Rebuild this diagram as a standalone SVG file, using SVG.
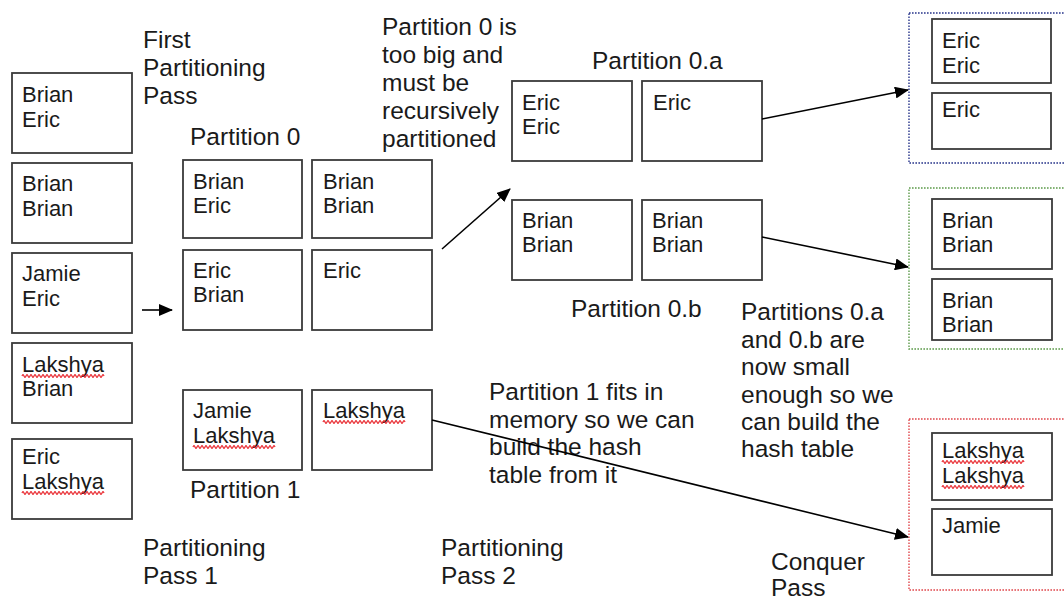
<svg xmlns="http://www.w3.org/2000/svg" xmlns:xlink="http://www.w3.org/1999/xlink" width="1064" height="600" viewBox="0 0 1064 600">
<style>
.bg{fill:#ffffff}
.box{fill:#ffffff;stroke:#3a3a3a;stroke-width:1.8}
.t{font-family:"Liberation Sans",Arial,sans-serif;font-size:22px;fill:#1a1a1a}
.l{font-family:"Liberation Sans",Arial,sans-serif;font-size:24.5px;fill:#1a1a1a}
.dot{fill:none;stroke-width:1.4;stroke-dasharray:1.6 1.4}
.conn{fill:none;stroke:#000;stroke-width:1.6;marker-end:url(#ah)}
.sq{fill:none;stroke:#e8242a;stroke-width:1.2}
</style>
<defs>
<marker id="ah" markerUnits="userSpaceOnUse" markerWidth="14" markerHeight="12" refX="13" refY="6" orient="auto">
<path d="M0,0 L14,6 L0,12 z" fill="#000"/>
</marker>
<path id="squig" d="M0 0 q1 -2.6 2 0 t2 0 t2 0 t2 0 t2 0 t2 0 t2 0 t2 0 t2 0 t2 0 t2 0 t2 0 t2 0 t2 0 t2 0 t2 0 t2 0 t2 0 t2 0 t2 0 t2 0 t2 0 t2 0 t2 0 t2 0 t2 0 t2 0 t2 0 t2 0 t2 0 t2 0 t2 0 t2 0 t2 0 t2 0 t2 0 t2 0 t2 0 t2 0 t2 0 t2 0"/>
</defs>
<rect class="bg" x="0" y="0" width="1064" height="600"/>

<g id="labels">
<text class="l" x="143" y="48">First</text>
<text class="l" x="143" y="76">Partitioning</text>
<text class="l" x="143" y="104">Pass</text>
<text class="l" x="190" y="145">Partition 0</text>
<text class="l" x="382" y="35">Partition 0 is</text>
<text class="l" x="382" y="63">too big and</text>
<text class="l" x="382" y="91">must be</text>
<text class="l" x="382" y="119">recursively</text>
<text class="l" x="382" y="147">partitioned</text>
<text class="l" x="592" y="69">Partition 0.a</text>
<text class="l" x="571" y="317">Partition 0.b</text>
<text class="l" x="741" y="320">Partitions 0.a</text>
<text class="l" x="741" y="348">and 0.b are</text>
<text class="l" x="741" y="375">now small</text>
<text class="l" x="741" y="403">enough so we</text>
<text class="l" x="741" y="430">can build the</text>
<text class="l" x="741" y="457">hash table</text>
<text class="l" x="489" y="400">Partition 1 fits in</text>
<text class="l" x="489" y="428">memory so we can</text>
<text class="l" x="489" y="455">build the hash</text>
<text class="l" x="489" y="483">table from it</text>
<text class="l" x="190" y="498">Partition 1</text>
<text class="l" x="143" y="556">Partitioning</text>
<text class="l" x="143" y="584">Pass 1</text>
<text class="l" x="441" y="556">Partitioning</text>
<text class="l" x="441" y="584">Pass 2</text>
<text class="l" x="771" y="570">Conquer</text>
<text class="l" x="771" y="596">Pass</text>
</g>

<g id="input">
<g id="in1"><rect class="box" x="12" y="73" width="120" height="80"/><text class="t" x="22" y="102">Brian</text><text class="t" x="22" y="127">Eric</text></g>
<g id="in2"><rect class="box" x="12" y="163" width="120" height="80"/><text class="t" x="22" y="191">Brian</text><text class="t" x="22" y="216">Brian</text></g>
<g id="in3"><rect class="box" x="12" y="253" width="120" height="80"/><text class="t" x="22" y="281">Jamie</text><text class="t" x="22" y="306">Eric</text></g>
<g id="in4"><rect class="box" x="12" y="343" width="120" height="80"/><text class="t" x="22" y="372">Lakshya</text><use class="sq" xlink:href="#squig" x="22" y="376"/><text class="t" x="22" y="396">Brian</text></g>
<g id="in5"><rect class="box" x="12" y="439" width="120" height="80"/><text class="t" x="22" y="464">Eric</text><text class="t" x="22" y="489">Lakshya</text><use class="sq" xlink:href="#squig" x="22" y="493"/></g>
</g>

<g id="partition0">
<g id="p0a"><rect class="box" x="183" y="160" width="119" height="78"/><text class="t" x="193" y="189">Brian</text><text class="t" x="193" y="213">Eric</text></g>
<g id="p0b"><rect class="box" x="312" y="160" width="120" height="78"/><text class="t" x="323" y="189">Brian</text><text class="t" x="323" y="213">Brian</text></g>
<g id="p0c"><rect class="box" x="183" y="250" width="119" height="80"/><text class="t" x="193" y="278">Eric</text><text class="t" x="193" y="302">Brian</text></g>
<g id="p0d"><rect class="box" x="312" y="250" width="120" height="80"/><text class="t" x="323" y="278">Eric</text></g>
</g>

<g id="partition1">
<g id="p1a"><rect class="box" x="183" y="390" width="119" height="80"/><text class="t" x="193" y="418">Jamie</text><text class="t" x="193" y="443">Lakshya</text><use class="sq" xlink:href="#squig" x="193" y="447"/></g>
<g id="p1b"><rect class="box" x="312" y="390" width="120" height="80"/><text class="t" x="323" y="418">Lakshya</text><use class="sq" xlink:href="#squig" x="323" y="422"/></g>
</g>

<g id="partition0a">
<g id="p0a1"><rect class="box" x="512" y="81" width="120" height="80"/><text class="t" x="522" y="110">Eric</text><text class="t" x="522" y="134">Eric</text></g>
<g id="p0a2"><rect class="box" x="642" y="81" width="120" height="80"/><text class="t" x="653" y="110">Eric</text></g>
</g>

<g id="partition0b">
<g id="p0b1"><rect class="box" x="512" y="200" width="120" height="80"/><text class="t" x="522" y="228">Brian</text><text class="t" x="522" y="252">Brian</text></g>
<g id="p0b2"><rect class="box" x="642" y="200" width="120" height="80"/><text class="t" x="652" y="228">Brian</text><text class="t" x="652" y="252">Brian</text></g>
</g>

<g id="conquerEric">
<rect class="dot" stroke="#27348b" x="909" y="13" width="160" height="150"/>
<rect class="box" x="932" y="19" width="119" height="64"/><text class="t" x="942" y="48">Eric</text><text class="t" x="942" y="73">Eric</text>
<rect class="box" x="932" y="93" width="119" height="56"/><text class="t" x="942" y="117">Eric</text>
</g>

<g id="conquerBrian">
<rect class="dot" stroke="#5c9a4a" x="909" y="188" width="160" height="161"/>
<rect class="box" x="932" y="199" width="120" height="70"/><text class="t" x="942" y="228">Brian</text><text class="t" x="942" y="252">Brian</text>
<rect class="box" x="932" y="279" width="120" height="61"/><text class="t" x="942" y="308">Brian</text><text class="t" x="942" y="332">Brian</text>
</g>

<g id="conquerOther">
<rect class="dot" stroke="#e0474c" x="909" y="419" width="160" height="171"/>
<rect class="box" x="932" y="433" width="120" height="67"/><text class="t" x="942" y="458">Lakshya</text><use class="sq" xlink:href="#squig" x="942" y="462"/><text class="t" x="942" y="483">Lakshya</text><use class="sq" xlink:href="#squig" x="942" y="487"/>
<rect class="box" x="932" y="509" width="120" height="66"/><text class="t" x="942" y="533">Jamie</text>
</g>

<g id="connectors">
<line class="conn" x1="142" y1="310" x2="172" y2="310"/>
<line class="conn" x1="442" y1="249" x2="510" y2="189"/>
<line class="conn" x1="762" y1="119" x2="908" y2="90"/>
<line class="conn" x1="762" y1="237" x2="908" y2="267"/>
<line class="conn" x1="432" y1="420" x2="908" y2="537"/>
</g>
</svg>
